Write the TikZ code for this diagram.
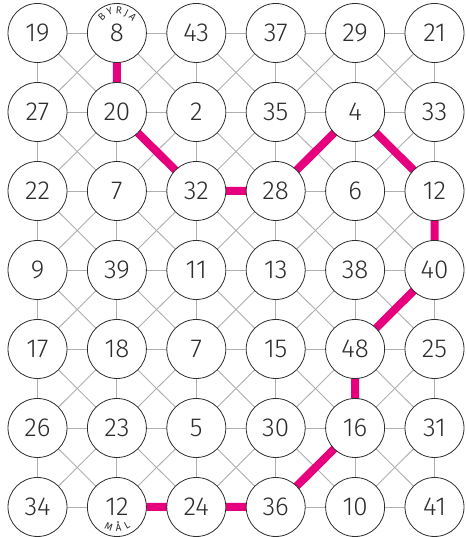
\documentclass[tikz,border=0pt]{standalone}
\usepackage{fontspec}
\setsansfont{Fira Sans Light}
\newfontfamily\tagfont{Fira Sans}
\usetikzlibrary{decorations.text,backgrounds}
\definecolor{rutt}{RGB}{230,0,126}
\definecolor{linje}{RGB}{175,175,175}
\definecolor{skrift}{RGB}{45,45,45}

\begin{document}
\begin{tikzpicture}[x=1pt,y=1pt,
            num/.style={circle,draw=skrift,fill=white,line width=0.8pt,minimum size=59pt,inner sep=0pt,
              text=skrift,font=\sffamily\fontsize{26}{26}\selectfont},
            web/.style={linje,line width=0.9pt},
            route/.style={rutt,line width=8pt},
            tag/.style={decorate,decoration={text along path,text align=fit to path,
              text color=skrift}}]

            \useasboundingbox (0,0) rectangle (465,537);

            % the number circles, row by row from the top
            \foreach \r/\row in {0/{19,8,43,37,29,21},1/{27,20,2,35,4,33},
                                 2/{22,7,32,28,6,12},3/{9,39,11,13,38,40},
                                 4/{17,18,7,15,48,25},5/{26,23,5,30,16,31},
                                 6/{34,12,24,36,10,41}}
              \foreach \v [count=\c from 0] in \row
                \node[num] (n-\r-\c) at ({37.5+79.4*\c},{504-79*\r}) {\v};

            \begin{scope}[on background layer]
            % thin net: rows, columns and the crosses in every cell
            \foreach \r in {0,...,6} {\foreach \c in {0,...,4} {
              \pgfmathtruncatemacro\cc{\c+1}
              \draw[web] (n-\r-\c) -- (n-\r-\cc);}}
            \foreach \r in {0,...,5} {\foreach \c in {0,...,5} {
              \pgfmathtruncatemacro\rr{\r+1}
              \draw[web] (n-\r-\c) -- (n-\rr-\c);}}
            \foreach \r in {0,...,5} {\foreach \c in {0,...,4} {
              \pgfmathtruncatemacro\rr{\r+1}
              \pgfmathtruncatemacro\cc{\c+1}
              \draw[web] (n-\r-\c) -- (n-\rr-\cc);
              \draw[web] (n-\r-\cc) -- (n-\rr-\c);}}

            % the way from start to goal
            \draw[route] (n-0-1.center) -- (n-1-1.center) -- (n-2-2.center) -- (n-2-3.center)
              -- (n-1-4.center) -- (n-2-5.center) -- (n-3-5.center) -- (n-4-4.center)
              -- (n-5-4.center) -- (n-6-3.center) -- (n-6-2.center) -- (n-6-1.center);
            \end{scope}

            % start and goal words bent along the circles
            \path[tag,decoration={text={|\tagfont\fontsize{10}{10}\selectfont|BYRJA}}]
              ([shift={(142:19)}]n-0-1.center) arc (142:36:19);
            \path[tag,decoration={text={|\tagfont\fontsize{10}{10}\selectfont|MÅL}}]
              ([shift={(238:24.5)}]n-6-1.center) arc (238:304:24.5);
\end{tikzpicture}
\end{document}
